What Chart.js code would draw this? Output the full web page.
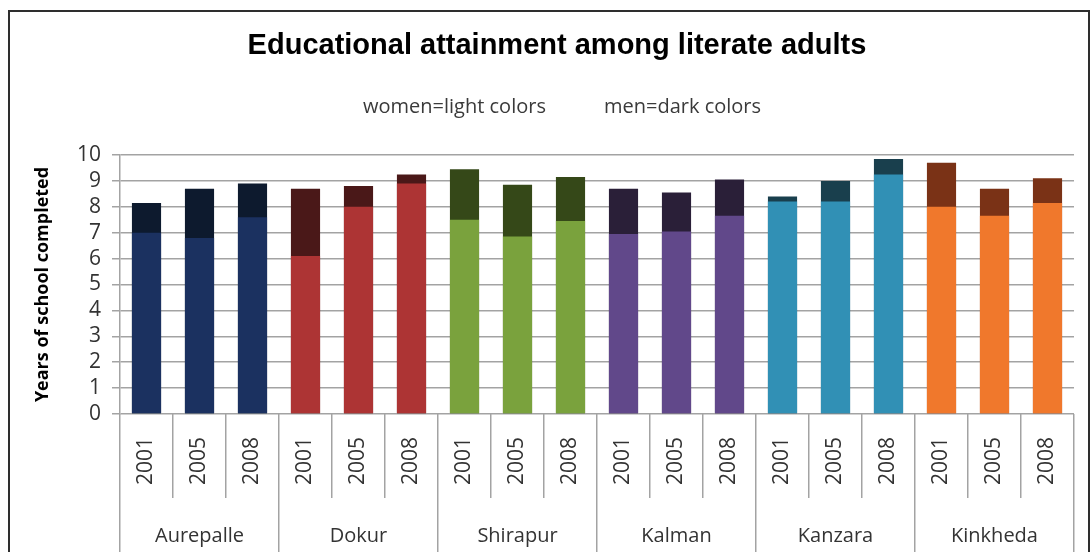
<!DOCTYPE html>
<html>
<head>
<meta charset="utf-8">
<title>Educational attainment among literate adults</title>
<script src="https://cdn.jsdelivr.net/npm/chart.js@4.4.1/dist/chart.umd.min.js"></script>
<style>
  html, body { margin: 0; padding: 0; background: #fff; overflow: hidden; }
  #wrap { position: relative; width: 1090px; height: 552px; }
  #frame {
    position: absolute; left: 8px; top: 10px; width: 1078px; height: 600px;
    border: 2px solid #2e2e2e; pointer-events: none;
  }
</style>
</head>
<body>
<div id="wrap">
  <canvas id="eduChart" width="1090" height="552"></canvas>
  <div id="frame"></div>
</div>
<script>
// Villages and survey years
const sites = ["Aurepalle", "Dokur", "Shirapur", "Kalman", "Kanzara", "Kinkheda"];
const years = ["2001", "2005", "2008"];

// Years of school completed, in village/year order
const womenYears = [7.0, 6.8, 7.6, 6.1, 8.0, 8.9, 7.5, 6.85, 7.45, 6.95, 7.05, 7.65, 8.2, 8.2, 9.25, 8.0, 7.65, 8.15];
const menYears = [8.15, 8.7, 8.9, 8.7, 8.8, 9.25, 9.45, 8.85, 9.15, 8.7, 8.55, 9.05, 8.4, 9.0, 9.85, 9.7, 8.7, 9.1];

// Colours per village: light for women, dark for men
const womenColors = ["#1b3160", "#ad3434", "#7aa23d", "#61488a", "#3190b5", "#f0782c"];
const menColors = ["#0d1a2e", "#4a1818", "#354818", "#2a1f38", "#193f4d", "#7a3216"];

const yTicks = [0, 1, 2, 3, 4, 5, 6, 7, 8, 9, 10];

// one label per bar, one colour per bar
const barLabels = sites.flatMap(() => years);
const womenBarColors = womenColors.flatMap(c => years.map(() => c));
const menBarColors = menColors.flatMap(c => years.map(() => c));

const gridColor = "#a3a3a3";
const numFont = { family: "'Open Sans', sans-serif", size: 21, lineHeight: 1 };
const nameFont = { family: "'Open Sans', sans-serif", size: 20 };

// title and colour note drawn as text
const headerText = {
  id: "headerText",
  afterDraw(chart) {
    const ctx = chart.ctx;
    ctx.save();
    ctx.fillStyle = "#000";
    ctx.font = "bold 29px 'Liberation Sans', Arial, sans-serif";
    ctx.textAlign = "center";
    ctx.textBaseline = "middle";
    ctx.fillText("Educational attainment among literate adults", 557, 46);

    ctx.fillStyle = "#3a3a3a";
    ctx.font = "20px 'Open Sans', sans-serif";
    ctx.textAlign = "left";
    ctx.fillText("women=light colors", 363, 107);
    ctx.fillText("men=dark colors", 604, 107);
    ctx.restore();
  }
};

const ctx = document.getElementById("eduChart").getContext("2d");

new Chart(ctx, {
  type: "bar",
  data: {
    labels: barLabels,
    datasets: [
      {
        label: "Women",
        data: womenYears,
        backgroundColor: womenBarColors,
        barPercentage: 0.55,
        categoryPercentage: 1
      },
      {
        label: "Men",
        data: menYears,
        backgroundColor: menBarColors,
        barPercentage: 0.55,
        categoryPercentage: 1
      }
    ]
  },
  options: {
    responsive: false,
    animation: false,
    devicePixelRatio: 1,
    layout: { padding: { top: 155, right: 16, left: 0, bottom: 0 } },
    plugins: {
      legend: { display: false },
      title: { display: false },
      tooltip: { enabled: false }
    },
    scales: {
      x: {
        stacked: true,
        weight: 0,
        offset: true,
        border: { display: false },
        grid: {
          offset: true,
          drawOnChartArea: false,
          color: gridColor,
          lineWidth: 1.5,
          tickLength: 84
        },
        ticks: {
          autoSkip: false,
          minRotation: 90,
          maxRotation: 90,
          padding: -61,
          color: "#333",
          font: numFont
        },
        afterFit(scale) { scale.height = 84; }
      },
      group: {
        type: "category",
        position: "bottom",
        labels: sites,
        weight: 1,
        offset: true,
        border: { display: false },
        grid: {
          offset: true,
          drawOnChartArea: false,
          color: gridColor,
          lineWidth: 1.5,
          tickLength: 54
        },
        ticks: {
          autoSkip: false,
          maxRotation: 0,
          padding: -28,
          color: "#333",
          font: nameFont
        },
        afterFit(scale) { scale.height = 54; }
      },
      y: {
        stacked: false,
        min: 0,
        max: 10,
        afterBuildTicks(scale) { scale.ticks = yTicks.map(v => ({ value: v })); },
        border: { display: true, color: gridColor, width: 1.5 },
        grid: { color: gridColor, lineWidth: 1.5, tickLength: 8 },
        ticks: { autoSkip: false, padding: 11, color: "#333", font: numFont },
        title: {
          display: true,
          text: "Years of school completed",
          color: "#000",
          font: { family: "'Open Sans', sans-serif", size: 18, weight: "bold" },
          padding: { top: 32, bottom: 0 }
        },
        afterFit(scale) { scale.width = 120; }
      }
    }
  },
  plugins: [headerText]
});
</script>
</body>
</html>
